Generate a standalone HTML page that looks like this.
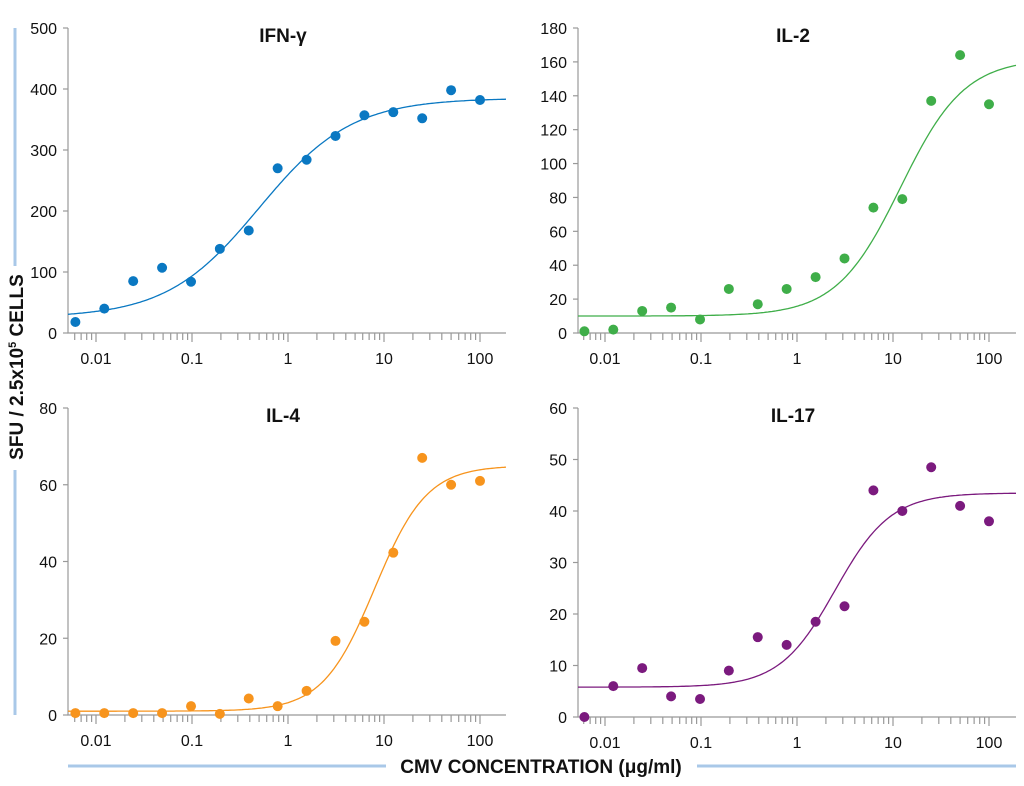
<!DOCTYPE html>
<html><head><meta charset="utf-8"><style>
html,body{margin:0;padding:0;background:#fff;}
svg{display:block;font-family:"Liberation Sans",sans-serif;}
</style></head><body>
<svg id="chart" width="1024" height="786" viewBox="0 0 1024 786" xmlns="http://www.w3.org/2000/svg">
<line x1="15" y1="28" x2="15" y2="266" stroke="#a9c8e8" stroke-width="3"/>
<line x1="15" y1="470" x2="15" y2="715" stroke="#a9c8e8" stroke-width="3"/>
<text transform="translate(23,367) rotate(-90)" text-anchor="middle" font-size="19" font-weight="bold" fill="#111">SFU / 2.5x10<tspan dy="-7" font-size="11">5</tspan><tspan dy="7"> CELLS</tspan></text>
<line x1="68" y1="766" x2="386" y2="766" stroke="#a9c8e8" stroke-width="3"/>
<line x1="697" y1="766" x2="1016" y2="766" stroke="#a9c8e8" stroke-width="3"/>
<text x="541" y="773" text-anchor="middle" font-size="19" font-weight="bold" fill="#111">CMV CONCENTRATION (μg/ml)</text>
</svg>
<script>
const concentrations=[0.0061,0.0122,0.0244,0.0488,0.0977,0.195,0.39,0.78,1.5625,3.125,6.25,12.5,25,50,100];
const ifnValues=[18,40,85,107,84,138,168,270,284,323,357,362,352,398,382];
const il2Values=[1,2,13,15,8,26,17,26,33,44,74,79,137,164,135];
const il4Values=[0.5,0.5,0.5,0.5,2.3,0.3,4.3,2.3,6.3,19.3,24.3,42.3,67,60,61];
const il17Values=[0,6,9.5,4,3.5,9,15.5,14,18.5,21.5,44,40,48.5,41,38];
const ifnTicks=[0,100,200,300,400,500];
const il2Ticks=[0,20,40,60,80,100,120,140,160,180];
const il4Ticks=[0,20,40,60,80];
const il17Ticks=[0,10,20,30,40,50,60];
const xTickLabels=["0.01","0.1","1","10","100"];
const ifnFit=[25,385,0.5,0.9];
const il2Fit=[10,162,12,1.3];
const il4Fit=[1,65,8,1.6];
const il17Fit=[5.8,43.5,2.5,1.5];

const NS="http://www.w3.org/2000/svg";
const svg=document.getElementById('chart');
function mk(tag,attrs,parent){const e=document.createElementNS(NS,tag);for(const k in attrs)e.setAttribute(k,attrs[k]);(parent||svg).appendChild(e);return e;}

function panel(key,title,vals,ticks,fit,color,px,pyTop,pyBot,x0dec){
  const g=mk('g',{});
  
  
  const left=px, right=px+438, ymax=ticks[ticks.length-1];
  const xs=v=>x0dec+(Math.log10(v)+2)*96;
  const ys=v=>pyBot-(v/ymax)*(pyBot-pyTop);
  const ax=mk('path',{d:`M${left},${pyTop} V${pyBot} H${right}`,fill:'none',stroke:'#999','stroke-width':1.2},g);
  
  
  ticks.forEach(t=>{
    mk('line',{x1:left-5,x2:left,y1:ys(t),y2:ys(t),stroke:'#999','stroke-width':1.2},g);
    const tx=mk('text',{x:left-11,y:ys(t)+6,'text-anchor':'end','font-size':16,fill:'#111'},g);
    tx.textContent=t;
    
    
  });
  for(let d=-3;d<=2;d++){for(let m=1;m<10;m++){
    const v=m*Math.pow(10,d);const x=xs(v);
    if(x<left+2||x>right)continue;
    mk('line',{x1:x,x2:x,y1:pyBot,y2:pyBot+(m===1?9:7),stroke:'#999','stroke-width':1.2},g);
  }}
  xTickLabels.forEach(l=>{
    const tx=mk('text',{x:xs(parseFloat(l)),y:pyBot+31,'text-anchor':'middle','font-size':16,fill:'#111'},g);
    tx.textContent=l;
    
    
  });
  const tt=mk('text',{x:px+215,y:pyTop+14,'text-anchor':'middle','font-size':19,'font-weight':'bold',fill:'#111'},g);
  tt.textContent=title;
  
  
  let d='';
  for(let x=left;x<=right;x+=2){
    const c=Math.pow(10,(x-x0dec)/96-2);
    const y=fit[0]+(fit[1]-fit[0])/(1+Math.pow(fit[2]/c,fit[3]));
    d+=(x===left?'M':'L')+x+','+ys(y).toFixed(1);
  }
  const cv=mk('path',{d:d,fill:'none',stroke:color,'stroke-width':1.3},g);
  
  
  vals.forEach((v,i)=>{
    const c=mk('circle',{cx:xs(concentrations[i]),cy:ys(v),r:5,fill:color},g);
    
    
  });
}
panel('ifn','IFN-γ',ifnValues,ifnTicks,ifnFit,'#0a78c2',68,28,333,96);
panel('il2','IL-2',il2Values,il2Ticks,il2Fit,'#3fae49',578,28,333,605);
panel('il4','IL-4',il4Values,il4Ticks,il4Fit,'#f7941d',68,408,715,96);
panel('il17','IL-17',il17Values,il17Ticks,il17Fit,'#7b1a7e',578,408,717,605);
</script>
</body></html>
